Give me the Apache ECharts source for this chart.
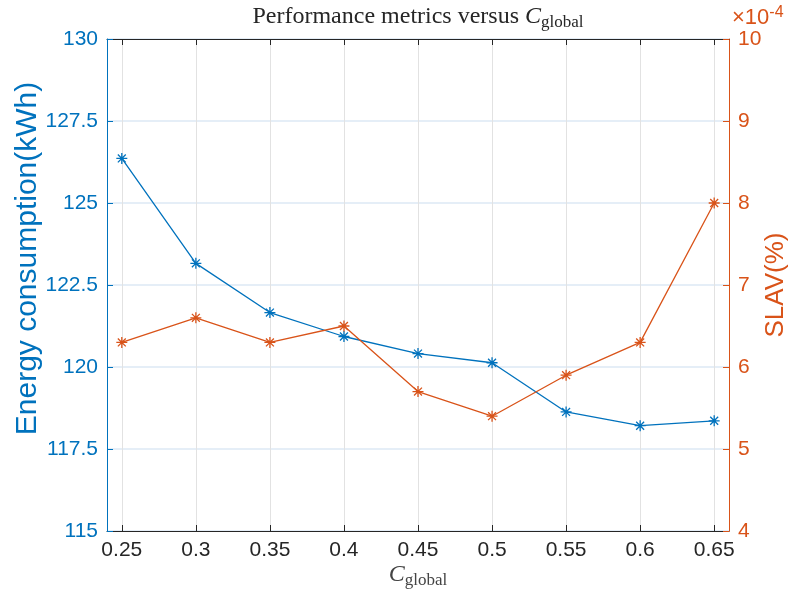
<!DOCTYPE html>
<html>
<head>
<meta charset="utf-8">
<script src="https://cdn.jsdelivr.net/npm/echarts@6/dist/echarts.min.js"></script>
<style>html,body{margin:0;padding:0;background:#fff}#c{width:792px;height:594px}</style>
</head>
<body>
<div id="c"></div>
<script>
const cGlobal = [0.25, 0.3, 0.35, 0.4, 0.45, 0.5, 0.55, 0.6, 0.65];
const energy = [126.36, 123.16, 121.66, 120.93, 120.41, 120.13, 118.63, 118.21, 118.36];
const slav = [6.3, 6.6, 6.3, 6.5, 5.7, 5.4, 5.9, 6.3, 8.0]; // ×10^-4
const leftTicks = [115, 117.5, 120, 122.5, 125, 127.5, 130];
const rightTicks = [4, 5, 6, 7, 8, 9, 10];

const BLUE = '#0072BD', ORANGE = '#D95319', DARK = '#262626';
const star = 'path://M0,-5L0,5M-5,0L5,0M-3.6,-3.6L3.6,3.6M-3.6,3.6L3.6,-3.6';
const sans = '"Liberation Sans", Arial, Helvetica, sans-serif';
const serif = '"Liberation Serif", "Times New Roman", serif';

const chart = echarts.init(document.getElementById('c'));
chart.setOption({
  animation: false,
  grid: {left: 107, right: 63, top: 39, bottom: 63, containLabel: false, outerBoundsMode: 'none'},
  graphic: [
    {type: 'text', x: 418, y: 3, style: {
      text: '{t|Performance metrics versus }{c|C}{s|global}',
      align: 'center', rich: {
        t: {fontFamily: serif, fontSize: 24, fill: DARK},
        c: {fontFamily: serif, fontSize: 24, fontStyle: 'italic', fill: DARK},
        s: {fontFamily: serif, fontSize: 17, fill: DARK, padding: [11, 0, 0, 0]}
      }}},
    {type: 'text', x: 418, y: 561, style: {
      text: '{c|C}{s|global}', align: 'center', rich: {
        c: {fontFamily: serif, fontSize: 24, fontStyle: 'italic', fill: '#444'},
        s: {fontFamily: serif, fontSize: 17, fill: '#444', padding: [11, 0, 0, 0]}
      }}},
    {type: 'text', x: 732, y: 5, style: {
      text: '{a|×10}{b|-4}', rich: {
        a: {fontFamily: sans, fontSize: 22, fill: ORANGE},
        b: {fontFamily: sans, fontSize: 16, fill: ORANGE, padding: [0, 0, 10, 0]}
      }}}
  ],
  xAxis: [{
    type: 'value', min: 0.24, max: 0.66, position: 'bottom',
    axisLine: {show: true, lineStyle: {color: DARK, width: 1}},
    axisTick: {show: true, inside: true, length: 6, customValues: cGlobal, lineStyle: {color: DARK}},
    axisLabel: {customValues: cGlobal, color: DARK, fontFamily: sans, fontSize: 21, margin: 9},
    splitLine: {show: true, lineStyle: {color: '#e2e2e2', width: 1}}
  }, {
    type: 'value', min: 0.24, max: 0.66, position: 'top',
    axisLine: {show: true, onZero: false, lineStyle: {color: DARK, width: 1}},
    axisTick: {show: true, inside: true, length: 6, customValues: cGlobal, lineStyle: {color: DARK}},
    axisLabel: {show: false},
    splitLine: {show: false}
  }],
  yAxis: [{
    type: 'value', min: 115, max: 130, interval: 2.5, position: 'left',
    name: 'Energy consumption(kWh)', nameLocation: 'middle', nameGap: 64, nameRotate: 90,
    nameMoveOverlap: false,
    nameTextStyle: {color: BLUE, fontFamily: sans, fontSize: 30, padding: [0, 0, 0, 53]},
    axisLine: {show: true, onZero: false, lineStyle: {color: BLUE, width: 1}},
    axisTick: {show: true, inside: true, length: 6, lineStyle: {color: BLUE}},
    axisLabel: {color: BLUE, fontFamily: sans, fontSize: 21, margin: 9},
    splitLine: {show: true, lineStyle: {color: '#dde9f4', width: 1.5}}
  }, {
    type: 'value', min: 4, max: 10, interval: 1, position: 'right',
    name: 'SLAV(%)', nameLocation: 'middle', nameGap: 34, nameRotate: 90,
    nameMoveOverlap: false,
    nameTextStyle: {color: ORANGE, fontFamily: sans, fontSize: 26},
    axisLine: {show: true, onZero: false, lineStyle: {color: ORANGE, width: 1}},
    axisTick: {show: true, inside: true, length: 6, lineStyle: {color: ORANGE}},
    axisLabel: {color: ORANGE, fontFamily: sans, fontSize: 21, margin: 9},
    splitLine: {show: false}
  }],
  series: [{
    type: 'line', xAxisIndex: 0, yAxisIndex: 0,
    data: cGlobal.map((x, i) => [x, energy[i]]),
    symbol: star, symbolSize: 11, showAllSymbol: true,
    lineStyle: {color: BLUE, width: 1.3},
    itemStyle: {color: BLUE, borderColor: BLUE, borderWidth: 1.3}
  }, {
    type: 'line', xAxisIndex: 0, yAxisIndex: 1,
    data: cGlobal.map((x, i) => [x, slav[i]]),
    symbol: star, symbolSize: 11, showAllSymbol: true,
    lineStyle: {color: ORANGE, width: 1.3},
    itemStyle: {color: ORANGE, borderColor: ORANGE, borderWidth: 1.3}
  }]
});
</script>
</body>
</html>
